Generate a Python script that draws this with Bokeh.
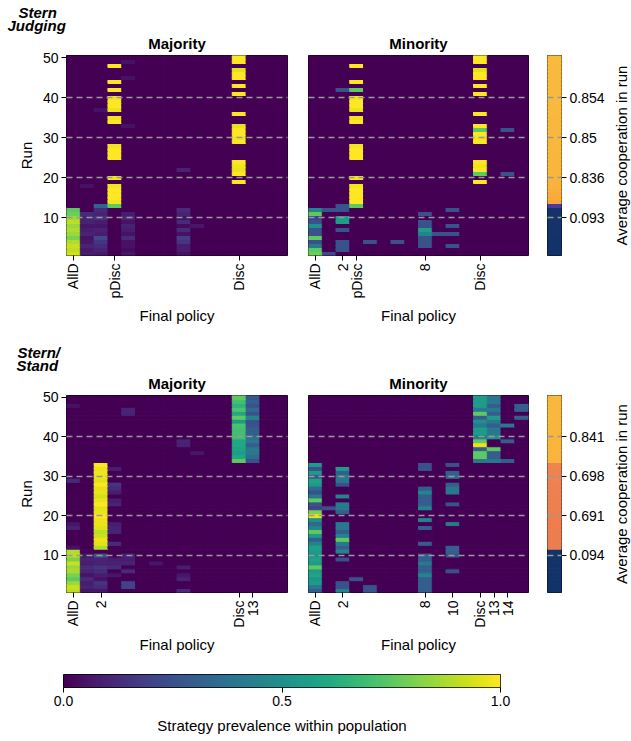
import math
import numpy as np
from bokeh.plotting import figure
from bokeh.models import (Range1d, FixedTicker, ColumnDataSource, LinearColorMapper,
                          Title, Grid, PrintfTickFormatter)
from bokeh.palettes import Viridis256
from bokeh.layouts import row, column
from bokeh.embed import file_html
from bokeh.resources import INLINE

# ---------------- data ----------------
N_RUNS = 50
N_POLICIES = 16
POLICY_LABELS = ["AllD", "1", "2", "pDisc", "4", "5", "6", "7", "8", "9",
                 "10", "11", "Disc", "13", "14", "15"]
RUN_TICKS = [10, 20, 30, 40, 50]
GRID_RUNS = [10, 20, 30, 40]

TICKS_SJ_MAJ = [0, 3, 12]
TICKS_SJ_MIN = [0, 2, 3, 8, 12]
TICKS_SS_MAJ = [0, 2, 12, 13]
TICKS_SS_MIN = [0, 2, 8, 10, 12, 13, 14]

# (policy column, first run, prevalence for consecutive runs); all other cells are 0
SJ_MAJ = [
    (0, 1, [0.93, 0.90, 0.92, 0.88, 0.80, 0.85, 0.88, 0.85, 0.90, 0.85, 0.78, 0.75]),
    (1, 1, [0.08, 0.07, 0.10, 0.06, 0.05, 0.10, 0.08, 0.06, 0.10, 0.09, 0.12]),
    (1, 18, [0.05]),
    (2, 1, [0.07, 0.10, 0.12, 0.15, 0.22, 0.08, 0.10, 0.06, 0.08, 0.14, 0.10, 0.12, 0.32]),
    (2, 37, [0.05]),
    (3, 13, [0.75, 0.98, 1.0, 1.0, 1.0, 0.98]),
    (3, 20, [0.98]),
    (3, 25, [1.0, 1.0, 1.0, 0.98]),
    (3, 34, [1.0, 0.98]),
    (3, 37, [0.97, 1.0, 1.0, 0.98]),
    (3, 42, [1.0]),
    (3, 44, [1.0]),
    (3, 48, [1.0]),
    (4, 1, [0.06, 0.03, 0.05, 0.05, 0.12, 0.05, 0.08, 0.10, 0.05, 0.10, 0.08]),
    (4, 33, [0.05]),
    (4, 45, [0.05]),
    (4, 49, [0.05]),
    (8, 1, [0.05, 0.08, 0.08, 0.15, 0.18, 0.05, 0.12, 0.03, 0.12, 0.05, 0.10, 0.12]),
    (8, 22, [0.10]),
    (9, 8, [0.06]),
    (12, 19, [1.0]),
    (12, 21, [1.0, 0.97, 0.98, 1.0]),
    (12, 29, [1.0, 0.98, 1.0, 1.0, 0.97]),
    (12, 36, [1.0]),
    (12, 41, [1.0]),
    (12, 43, [1.0]),
    (12, 45, [1.0, 1.0, 0.96]),
    (12, 49, [1.0, 1.0]),
]

SJ_MIN = [
    (0, 1, [0.78, 0.75, 0.40, 0.25, 0.75, 0.25, 0.25, 0.50, 0.25, 0.20, 0.75, 0.45]),
    (1, 1, [0.22]),
    (1, 12, [0.25]),
    (2, 2, [0.25, 0.25, 0.25]),
    (2, 7, [0.25]),
    (2, 9, [0.55, 0.55]),
    (2, 12, [0.25, 0.25]),
    (2, 42, [0.25]),
    (3, 13, [0.75, 1.0, 1.0, 1.0, 1.0, 0.98]),
    (3, 20, [0.98]),
    (3, 25, [1.0, 1.0, 1.0, 0.98]),
    (3, 34, [1.0, 0.98]),
    (3, 37, [0.97, 1.0, 1.0, 0.98]),
    (3, 42, [0.75]),
    (3, 44, [1.0]),
    (3, 48, [1.0]),
    (4, 4, [0.25]),
    (6, 4, [0.25]),
    (8, 3, [0.25, 0.25, 0.25, 0.45, 0.55, 0.25, 0.25]),
    (8, 11, [0.25]),
    (9, 6, [0.25]),
    (10, 3, [0.25]),
    (10, 6, [0.25]),
    (10, 8, [0.25]),
    (10, 12, [0.25]),
    (12, 19, [1.0]),
    (12, 21, [0.75, 1.0, 0.98, 1.0]),
    (12, 29, [1.0, 0.98, 1.0, 0.75, 1.0]),
    (12, 36, [1.0]),
    (12, 41, [1.0]),
    (12, 43, [1.0]),
    (12, 45, [1.0, 1.0, 0.96]),
    (12, 49, [1.0, 1.0]),
    (14, 21, [0.25]),
    (14, 32, [0.25]),
]

SS_MAJ = [
    (0, 1, [0.90, 0.92, 0.85, 0.75, 0.80, 0.87, 0.85, 0.92, 0.80, 0.90, 0.88]),
    (0, 12, [0.05]),
    (0, 17, [0.10, 0.06]),
    (0, 29, [0.12]),
    (0, 48, [0.05]),
    (1, 1, [0.06, 0.10, 0.08, 0.12, 0.05, 0.10, 0.12, 0.08, 0.10, 0.06]),
    (2, 1, [0.06, 0.12, 0.15, 0.05, 0.08, 0.12, 0.15, 0.10, 0.10, 0.25]),
    (2, 12, [0.88, 0.95, 0.97, 0.92, 0.90, 0.95, 0.97, 0.97, 1.00, 0.97, 0.95,
             1.00, 0.97, 0.93, 0.97, 0.95, 1.00, 0.95, 0.97, 0.98, 0.97, 1.00]),
    (3, 5, [0.06]),
    (3, 7, [0.12, 0.10, 0.08]),
    (3, 13, [0.12]),
    (3, 16, [0.10, 0.10, 0.08]),
    (3, 23, [0.10, 0.08]),
    (3, 26, [0.08, 0.12, 0.15]),
    (3, 32, [0.08]),
    (4, 2, [0.20, 0.20]),
    (4, 6, [0.12]),
    (4, 8, [0.10, 0.08, 0.10]),
    (4, 46, [0.10, 0.10]),
    (6, 8, [0.06]),
    (8, 1, [0.12]),
    (8, 4, [0.10, 0.06]),
    (8, 7, [0.08]),
    (8, 38, [0.10, 0.10]),
    (9, 36, [0.06]),
    (12, 34, [0.75, 0.60, 0.55, 0.58, 0.60, 0.60, 0.70, 0.70, 0.70, 0.72, 0.55,
              0.75, 0.60, 0.72, 0.65, 0.70, 0.75]),
    (13, 34, [0.25, 0.35, 0.40, 0.40, 0.30, 0.40, 0.35, 0.30, 0.30, 0.25, 0.25,
              0.45, 0.25, 0.35, 0.25, 0.30, 0.28]),
]

SS_MIN = [
    (0, 1, [0.30, 0.40, 0.55, 0.52, 0.58, 0.55, 0.75, 0.55, 0.58, 0.52, 0.55, 0.57,
            0.45, 0.30, 0.55, 0.75, 0.45, 0.35, 0.50, 0.97, 0.80, 0.20, 0.25, 0.75,
            0.40, 0.25, 0.35, 0.55, 0.58, 0.30, 0.55, 0.25, 0.55]),
    (1, 22, [0.25]),
    (2, 1, [0.45, 0.25, 0.25]),
    (2, 9, [0.25]),
    (2, 11, [0.45, 0.30, 0.40, 0.75, 0.45, 0.30, 0.40, 0.40]),
    (2, 21, [0.30, 0.40, 0.40]),
    (2, 25, [0.45]),
    (2, 28, [0.25, 0.40, 0.40, 0.30, 0.55]),
    (3, 4, [0.25]),
    (4, 1, [0.25, 0.25]),
    (8, 1, [0.30, 0.30, 0.30, 0.30, 0.45, 0.30, 0.30, 0.40, 0.30, 0.30]),
    (8, 13, [0.30]),
    (8, 17, [0.30]),
    (8, 19, [0.45]),
    (8, 22, [0.45, 0.30, 0.30, 0.30, 0.45, 0.30]),
    (8, 32, [0.25, 0.25]),
    (10, 6, [0.25]),
    (10, 10, [0.25, 0.30, 0.30]),
    (10, 18, [0.40]),
    (10, 23, [0.25]),
    (10, 26, [0.40, 0.40, 0.30]),
    (10, 30, [0.35, 0.30]),
    (10, 33, [0.25]),
    (12, 34, [0.40, 0.75, 0.75, 0.30, 0.97, 0.75, 0.40, 0.55, 0.55, 0.40, 0.50,
              0.30, 0.75, 0.40, 0.55, 0.55, 0.55]),
    (13, 34, [0.40, 0.30, 0.30, 0.75]),
    (13, 40, [0.50, 0.40, 0.40, 0.30, 0.40, 0.55, 0.30, 0.40, 0.30, 0.40, 0.40]),
    (14, 34, [0.30]),
    (14, 39, [0.30]),
    (14, 43, [0.40]),
    (15, 45, [0.30]),
    (15, 47, [0.30, 0.30]),
]

# average cooperation of every run (runs 1..50)
COOP_SJ = [0.088, 0.089, 0.089, 0.090, 0.090, 0.091, 0.091, 0.092, 0.092, 0.093,
           0.094, 0.095, 0.300, 0.812, 0.818, 0.822, 0.826, 0.832, 0.834, 0.836,
           0.838, 0.840, 0.841, 0.842, 0.843, 0.844, 0.846, 0.847, 0.848, 0.850,
           0.850, 0.851, 0.851, 0.852, 0.852, 0.853, 0.853, 0.853, 0.854, 0.854,
           0.855, 0.855, 0.856, 0.856, 0.857, 0.857, 0.858, 0.859, 0.860, 0.862]
COOP_SS = [0.086, 0.087, 0.088, 0.089, 0.090, 0.091, 0.092, 0.093, 0.093, 0.094,
           0.096, 0.686, 0.687, 0.688, 0.688, 0.689, 0.689, 0.690, 0.690, 0.691,
           0.692, 0.692, 0.693, 0.693, 0.694, 0.695, 0.695, 0.696, 0.697, 0.698,
           0.699, 0.700, 0.701, 0.836, 0.837, 0.838, 0.838, 0.839, 0.840, 0.841,
           0.842, 0.843, 0.844, 0.845, 0.846, 0.847, 0.848, 0.849, 0.850, 0.852]

# ---------------- style ----------------
FONT = "Liberation Sans"
TICK_FS = "14px"
LABEL_FS = "15px"
GRID_COLOR = "#999999"
COOP_STOPS = [0.0, 0.10, 0.30, 0.69, 0.70, 0.81, 0.835, 0.87]
COOP_COLORS = ["#0E2C60", "#13346A", "#4A3AA0", "#EE7E4F", "#EF8450",
               "#F8A53B", "#F9B43C", "#F9BC3F"]

viridis = LinearColorMapper(palette=Viridis256, low=0, high=1)


def _rgb(h):
    return tuple(int(h[i:i + 2], 16) for i in (1, 3, 5))


def coop_color(v):
    for i in range(len(COOP_STOPS) - 1):
        a, b = COOP_STOPS[i], COOP_STOPS[i + 1]
        if v <= b or i == len(COOP_STOPS) - 2:
            t = min(max((v - a) / (b - a), 0.0), 1.0)
            c0, c1 = _rgb(COOP_COLORS[i]), _rgb(COOP_COLORS[i + 1])
            return "#%02x%02x%02x" % tuple(int(round(x + (y - x) * t)) for x, y in zip(c0, c1))


def fmt3(v):
    s = "%.3f" % v
    return s.rstrip("0").rstrip(".")


def style_axis(ax):
    ax.major_label_text_font = FONT
    ax.major_label_text_font_size = TICK_FS
    ax.major_label_text_color = "black"
    ax.axis_label_text_font = FONT
    ax.axis_label_text_font_size = LABEL_FS
    ax.axis_label_text_font_style = "normal"
    ax.axis_label_text_color = "black"
    ax.major_tick_out = 5
    ax.major_tick_in = 0
    ax.minor_tick_line_color = None
    ax.major_tick_line_color = "black"
    ax.axis_line_color = None
    ax.major_label_standoff = 3
    ax.axis_label_standoff = 5


def add_grid(p):
    p.grid.visible = False
    g = Grid(dimension=1, ticker=FixedTicker(ticks=GRID_RUNS), grid_line_color=GRID_COLOR,
             grid_line_dash="6 4", grid_line_width=1.5, level="overlay")
    p.add_layout(g)


def make_title(text, align, style, standoff, offset=0):
    try:
        return Title(text=text, align=align, offset=offset, text_font=FONT,
                     text_font_size=LABEL_FS, text_font_style=style,
                     text_color="black", standoff=standoff)
    except Exception:
        return Title(text=text, align=align, offset=offset, text_font=FONT,
                     text_font_size=LABEL_FS, text_font_style=style,
                     text_color="black", standoff=0)


def heat_panel(segments, ticks, title, left_axis, width, height, bl, br, bt, bb, group=None):
    grid = np.zeros((N_RUNS, N_POLICIES))
    for col, first, vals in segments:
        for k, v in enumerate(vals):
            grid[first - 1 + k, col] = v
    xs, ys, vs = [], [], []
    for r in range(N_RUNS):
        for c in range(N_POLICIES):
            xs.append(c)
            ys.append(r + 1)
            vs.append(grid[r, c])
    src = ColumnDataSource(dict(x=xs, y=ys, v=vs))
    p = figure(width=width, height=height, x_range=Range1d(-0.5, N_POLICIES - 0.5),
               y_range=Range1d(0.5, N_RUNS + 0.5), output_backend="svg",
               toolbar_location=None, y_axis_location="left" if left_axis else None,
               min_border_left=bl, min_border_right=br, min_border_top=bt,
               min_border_bottom=bb, title=None)
    cmap = {"field": "v", "transform": viridis}
    p.rect(x="x", y="y", width=1, height=1, source=src, fill_color=cmap,
           line_color=cmap, line_width=1.0)
    p.outline_line_color = "black"
    p.outline_line_width = 1
    p.outline_line_alpha = 1
    p.add_layout(make_title(title, "center", "bold", 8), "above")
    if group:
        for txt, off, so in group:
            p.add_layout(make_title(txt, "left", "bold italic", so, off), "above")
    for ax in p.xaxis:
        style_axis(ax)
        ax.ticker = FixedTicker(ticks=ticks)
        ax.major_label_overrides = {t: POLICY_LABELS[t] for t in ticks}
        ax.major_label_orientation = math.pi / 2
        ax.axis_label = "Final policy"
    if left_axis:
        for ax in p.yaxis:
            style_axis(ax)
            ax.ticker = FixedTicker(ticks=RUN_TICKS)
            ax.axis_label = "Run"
    add_grid(p)
    return p


def coop_bar(coop, width, height, bl, br, bt, bb):
    src = ColumnDataSource(dict(x=[0.5] * N_RUNS, y=list(range(1, N_RUNS + 1)),
                                c=[coop_color(v) for v in coop]))
    p = figure(width=width, height=height, x_range=Range1d(0, 1),
               y_range=Range1d(0.5, N_RUNS + 0.5), output_backend="svg",
               toolbar_location=None, x_axis_location=None, y_axis_location="right",
               min_border_left=bl, min_border_right=br, min_border_top=bt,
               min_border_bottom=bb)
    p.rect(x="x", y="y", width=1, height=1, source=src, fill_color="c",
           line_color="c", line_width=1.0)
    p.outline_line_color = "black"
    p.outline_line_width = 1
    for ax in p.yaxis:
        style_axis(ax)
        ax.ticker = FixedTicker(ticks=GRID_RUNS)
        ax.major_label_overrides = {t: fmt3(coop[t - 1]) for t in GRID_RUNS}
    add_grid(p)
    return p


def side_label(text, width, height, bt, bb):
    p = figure(width=width, height=height, x_range=Range1d(0, 1),
               y_range=Range1d(0.5, N_RUNS + 0.5), output_backend="svg",
               toolbar_location=None, x_axis_location=None, y_axis_location=None,
               min_border_left=width - 2, min_border_right=0, min_border_top=bt,
               min_border_bottom=bb, title=None)
    p.grid.visible = False
    p.outline_line_color = None
    p.add_layout(Title(text=text, align="center", text_font=FONT, text_font_size=LABEL_FS,
                       text_font_style="normal", text_color="black", standoff=0), "left")
    return p


# ---------------- layout ----------------
H1, BT1, BB1 = 330, 55, 75
H2, BT2, BB2 = 325, 65, 60
COOP_LABEL = "Average cooperation in run"

a = heat_panel(SJ_MAJ, TICKS_SJ_MAJ, "Majority", True, 297, H1, 66, 10, BT1, BB1,
               group=[("Judging", -59, -11), ("Stern", -48, -1)])
b = heat_panel(SJ_MIN, TICKS_SJ_MIN, "Minority", False, 240, H1, 11, 9, BT1, BB1)
c = coop_bar(COOP_SJ, 70, H1, 10, 46, BT1, BB1)
cl = side_label(COOP_LABEL, 24, H1, BT1, BB1)

d = heat_panel(SS_MAJ, TICKS_SS_MAJ, "Majority", True, 297, H2, 66, 10, BT2, BB2,
               group=[("Stand", -50, -11), ("Stern/", -49, -1)])
e = heat_panel(SS_MIN, TICKS_SS_MIN, "Minority", False, 240, H2, 11, 9, BT2, BB2)
f = coop_bar(COOP_SS, 70, H2, 10, 46, BT2, BB2)
fl = side_label(COOP_LABEL, 24, H2, BT2, BB2)

PREVALENCE_GRADIENT = np.linspace(0.0, 1.0, 256).reshape(1, 256)
g = figure(width=568, height=82, x_range=Range1d(0, 1), y_range=Range1d(0, 1),
           output_backend="svg", toolbar_location=None, y_axis_location=None,
           min_border_left=63, min_border_right=68, min_border_top=19, min_border_bottom=50)
g.image(image=[PREVALENCE_GRADIENT], x=0, y=0, dw=1, dh=1, color_mapper=viridis)
g.grid.visible = False
g.outline_line_color = "black"
g.outline_line_width = 1
for ax in g.xaxis:
    style_axis(ax)
    ax.ticker = FixedTicker(ticks=[0, 0.5, 1])
    ax.formatter = PrintfTickFormatter(format="%.1f")
    ax.axis_label = "Strategy prevalence within population"
    ax.axis_label_standoff = 8

layout = column(row(a, b, c, cl), row(d, e, f, fl), g)
open("out.html", "w").write(file_html(layout, INLINE))
